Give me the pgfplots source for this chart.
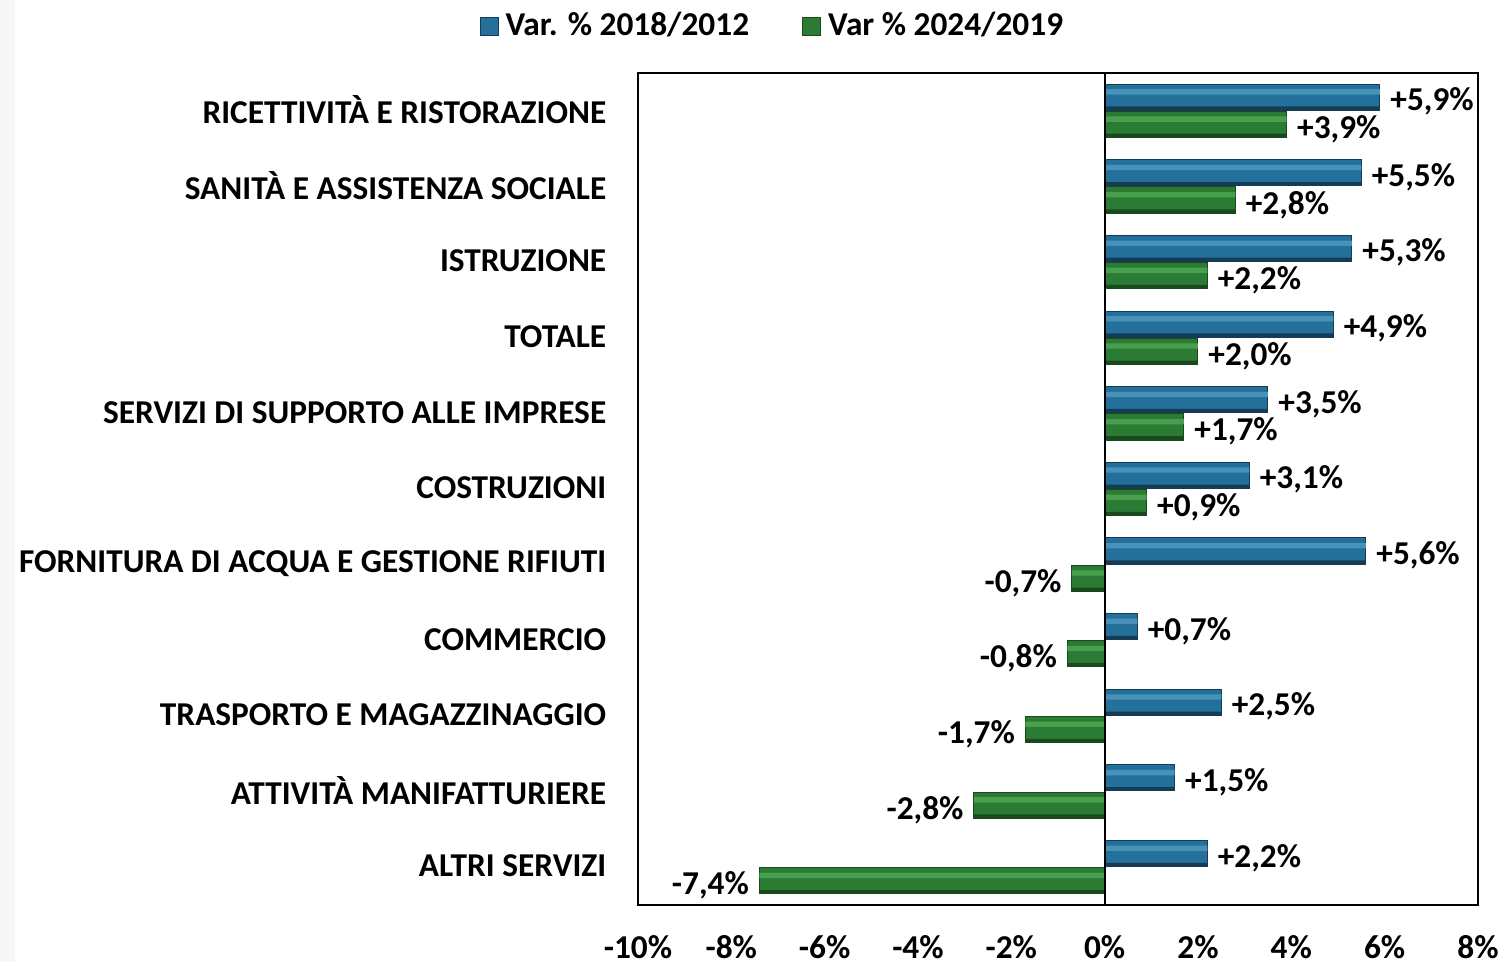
\documentclass[border=0pt]{standalone}
\usepackage{pgfplots}
\pgfplotsset{compat=1.18}
\usepackage{pgfplotstable}
\usepackage{fontspec}
\setmainfont{Carlito}
\definecolor{bluehi}{HTML}{4892BA}
\definecolor{bluemid}{HTML}{23709A}
\definecolor{bluebot}{HTML}{153C54}
\definecolor{greenhi}{HTML}{48A04F}
\definecolor{greenmid}{HTML}{2B7B35}
\definecolor{greenbot}{HTML}{184A1D}

\pgfplotstableread{
y x
0 5.9
1 5.5
2 5.3
3 4.9
4 3.5
5 3.1
6 5.6
7 0.7
8 2.5
9 1.5
10 2.2
}\seriesA

\pgfplotstableread{
y x
0 3.9
1 2.8
2 2.2
3 2.0
4 1.7
5 0.9
6 -0.7
7 -0.8
8 -1.7
9 -2.8
10 -7.4
}\seriesB

\begin{document}
\bfseries
\begin{tikzpicture}
\begin{axis}[
  name=ax,
  scale only axis,
  width=252pt, height=249.6pt,
  xmin=-10, xmax=8,
  ymin=-0.5, ymax=10.5,
  y dir=reverse,
  xtick={-10,-8,...,8},
  xticklabel={\pgfmathprintnumber{\tick}\%},
  ytick={0,...,10},
  yticklabels={RICETTIVITÀ E RISTORAZIONE,SANITÀ E ASSISTENZA SOCIALE,ISTRUZIONE,TOTALE,SERVIZI DI SUPPORTO ALLE IMPRESE,COSTRUZIONI,FORNITURA DI ACQUA E GESTIONE RIFIUTI,COMMERCIO,TRASPORTO E MAGAZZINAGGIO,ATTIVITÀ MANIFATTURIERE,ALTRI SERVIZI},
  major tick length=0pt,
  xticklabel style={yshift=-5.5pt},
  yticklabel style={xshift=-6pt, yshift=0.3pt},
  /pgf/number format/assume math mode=true,
  axis line style={black, line width=0.8pt},
  clip=false,
  legend style={draw=none, fill=none, at={(0.163,1.056)}, anchor=center,
    legend columns=2, /tikz/every even column/.append style={column sep=14pt},
    font=\bfseries},
  legend image code/.code={\draw[#1] (0pt,-2.6pt) rectangle (5.4pt,2.8pt);},
  point meta=x,
  lab/.style={
    nodes near coords={\pgfmathprintnumber[fixed,fixed zerofill,precision=1,use comma,print sign]{\pgfplotspointmeta}\%},
    nodes near coords align={horizontal},
    every node near coord/.append style={font=\bfseries, inner sep=3pt, yshift=#1},
  },
]
% main bars
\addplot[xbar, bar width=0.345, bar shift=-0.18, draw=bluebot, line width=0.3pt,
  fill=bluemid, lab=2.8pt]
  table[x=x,y=y]{\seriesA};
\addlegendentry{Var. \% 2018/2012}
\addplot[xbar, bar width=0.345, bar shift=0.18, draw=greenbot, line width=0.3pt,
  fill=greenmid, lab=-5.5pt]
  table[x=x,y=y]{\seriesB};
\addlegendentry{Var \% 2024/2019}
% bevel highlights
\addplot[xbar, forget plot, bar width=0.07, bar shift=-0.25, draw=none, fill=bluehi]
  table[x=x,y=y]{\seriesA};
\addplot[xbar, forget plot, bar width=0.05, bar shift=-0.0325, draw=none, fill=bluebot]
  table[x=x,y=y]{\seriesA};
\addplot[xbar, forget plot, bar width=0.07, bar shift=0.11, draw=none, fill=greenhi]
  table[x=x,y=y]{\seriesB};
\addplot[xbar, forget plot, bar width=0.05, bar shift=0.3275, draw=none, fill=greenbot]
  table[x=x,y=y]{\seriesB};
\draw[black, line width=0.6pt] (axis cs:0,-0.5) -- (axis cs:0,10.5);
\coordinate (bbA) at (rel axis cs:-0.7595,-0.0685);
\coordinate (bbB) at (rel axis cs:1.0405,1.0877);
\coordinate (strip) at (rel axis cs:-0.7417,1.0877);
\end{axis}
\fill[gray!7] (bbA) rectangle (strip);
\pgfresetboundingbox
\path[use as bounding box] (bbA) rectangle (bbB);
\end{tikzpicture}
\end{document}
